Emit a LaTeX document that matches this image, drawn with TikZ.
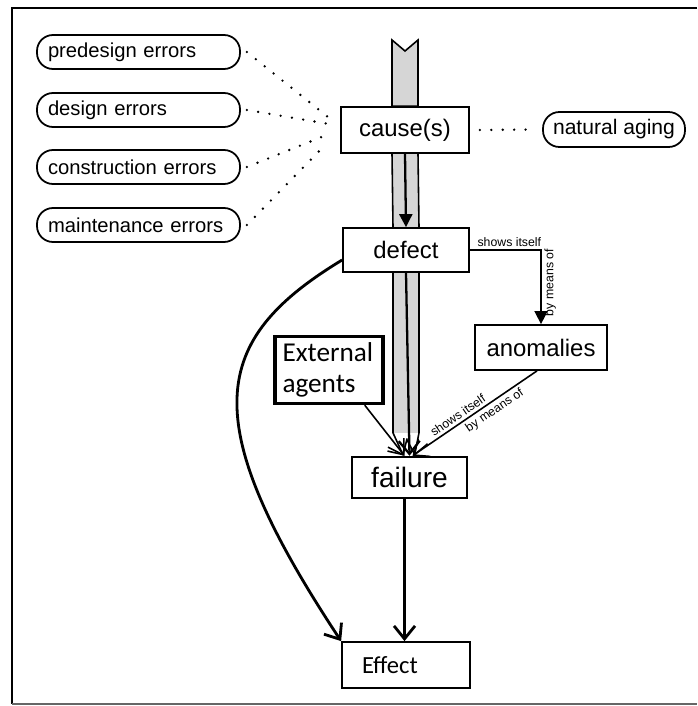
\documentclass[tikz,border=0pt]{standalone}
\usepackage{fontspec}
\setmainfont{Liberation Sans}
\newfontfamily\calib{Carlito}
\usetikzlibrary{arrows.meta}

\begin{document}
\begin{tikzpicture}[
    box/.style={draw, line width=1pt, inner sep=0pt,
                font=\fontsize{13.6}{16}\selectfont},
    pill/.style={draw, line width=1pt, rounded corners=0.32cm,
                 font=\fontsize{11.5}{13}\selectfont, inner xsep=0.22cm,
                 text width=3.62cm, align=left, minimum height=0.68cm},
    dots/.style={line width=1.5pt, line cap=round, dash pattern=on 0pt off 6.5pt},
    small/.style={font=\fontsize{7}{8}\selectfont, inner sep=1.5pt},
    band/.style={fill=black!16},
    link/.style={line width=0.9pt},
    openhead/.style={-{Straight Barb[length=2.6mm, width=4.2mm]}},
    fullhead/.style={-{Triangle[length=2.6mm, width=2.6mm]}}
  ]
  \useasboundingbox (0,0) rectangle (13.94,-14.12);
  % frame
  \draw[line width=1.6pt] (13.94,-0.16) -- (0.24,-0.16) -- (0.24,-14.08);
  \draw[line width=0.8pt, black!60] (0.24,-14.08) -- (13.94,-14.08);

  \node[pill] (pre) at (2.77,-1.04) {predesign errors};
  \node[pill] (des) at (2.77,-2.2) {design errors};
  \node[pill] (con) at (2.77,-3.34) {construction errors};
  \node[pill] (mai) at (2.77,-4.5) {maintenance errors};
  \node[draw, line width=1pt, rounded corners=0.33cm, minimum width=2.84cm,
        minimum height=0.7cm, font=\fontsize{12}{14}\selectfont]
        (aging) at (12.28,-2.59) {natural aging};

  \node[box, minimum width=2.56cm, minimum height=0.92cm] (cause) at (8.1,-2.6) {cause(s)};
  \node[box, minimum width=2.52cm, minimum height=0.88cm] (defect) at (8.12,-5.0) {defect};
  \node[box, minimum width=2.64cm, minimum height=0.9cm] (anom) at (10.82,-6.95) {anomalies};
  \node[box, minimum width=2.3cm, minimum height=0.82cm, line width=1.4pt,
        font=\fontsize{16}{18}\selectfont] (fail) at (8.19,-9.55) {failure};
  \node[draw, line width=2pt, font=\calib\fontsize{15.5}{18}\selectfont,
        text width=1.86cm, align=left, inner xsep=0.15cm, minimum height=1.28cm]
        (ext) at (6.58,-7.4) {External\\agents};
  \node[draw, line width=1pt, font=\calib\fontsize{14}{16}\selectfont,
        text width=1.76cm, align=left, inner xsep=0.4cm, minimum height=0.92cm]
        (eff) at (8.12,-13.3) {Effect};

  % the wide arrow through the chain
  \coordinate (tail) at (8.1,-0.8);
  \filldraw[band, line width=0.9pt] ([xshift=-0.26cm]tail) -- ([yshift=-0.22cm]tail)
    -- ([xshift=0.26cm]tail) -- ([xshift=0.26cm]cause.north)
    -- ([xshift=-0.26cm]cause.north) -- cycle;
  \fill[band] ([xshift=-0.26cm]cause.south) rectangle ([xshift=0.26cm]defect.north);
  \draw[link] ([xshift=-0.26cm]cause.south) -- ([xshift=-0.26cm]defect.north);
  \draw[link] ([xshift=0.26cm]cause.south) -- ([xshift=0.26cm]defect.north);
  \draw[line width=1.3pt, fullhead] (cause.south) -- (defect.north);
  \fill[band] ([xshift=-0.26cm]defect.south) rectangle ([xshift=0.26cm, yshift=-3.2cm]defect.south);
  \draw[link, openhead] ([xshift=-0.26cm]defect.south) -- ++(0,-3.2) -- ([xshift=-0.12cm]fail.north);
  \draw[link, openhead] ([xshift=0.26cm]defect.south) -- ++(0,-3.2) -- ([xshift=0.1cm]fail.north);
  \draw[line width=1.3pt, openhead] (defect.south) -- (fail.north);

  % dotted influences
  \draw[dots] ([xshift=0.12cm]pre.east) -- ([xshift=-0.22cm, yshift=0.24cm]cause.west);
  \draw[dots] ([xshift=0.12cm]des.east) -- ([xshift=-0.22cm, yshift=0.12cm]cause.west);
  \draw[dots] ([xshift=0.12cm]con.east) -- ([xshift=-0.22cm, yshift=-0.08cm]cause.west);
  \draw[dots] ([xshift=0.12cm]mai.east) -- ([xshift=-0.3cm, yshift=-0.3cm]cause.west);
  \draw[dots] ([xshift=0.2cm]cause.east) -- ([xshift=-0.15cm]aging.west);

  \draw[link, fullhead] (defect.east) -| node[small, pos=0.03, anchor=south west] {shows itself}
    node[small, pos=0.76, rotate=90, anchor=north, xshift=0.12cm] {by means of} (anom.north);
  \draw[link, openhead] ([xshift=-0.08cm]anom.south) --
    node[small, sloped, pos=0.6, above] {shows itself}
    node[small, sloped, pos=0.38, below] {by means of} ([xshift=0.06cm]fail.north);
  \draw[link, openhead] ([xshift=-0.4cm]ext.south east) -- ([xshift=-0.1cm]fail.north);

  \draw[line width=1.6pt, openhead] ([yshift=-0.2cm]defect.west)
    .. controls (4.2,-6.8) and (3.9,-8.4) .. (eff.north west);
  \draw[line width=1.6pt, openhead] ([xshift=-0.1cm]fail.south) -- ([xshift=-0.1cm]fail.south |- eff.north);
\end{tikzpicture}
\end{document}
